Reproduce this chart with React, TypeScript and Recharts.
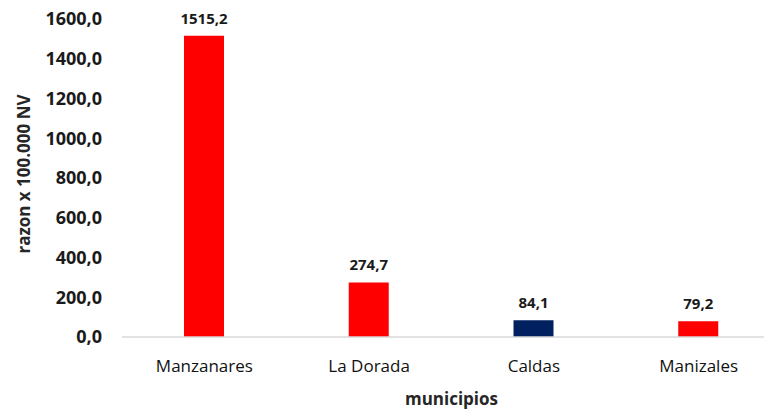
import { BarChart, Bar, XAxis, YAxis, Cell, LabelList, Label } from "recharts";

const municipios = ["Manzanares", "La Dorada", "Caldas", "Manizales"];
const razon = [1515.2, 274.7, 84.1, 79.2];
const colores = ["#FF0000", "#FF0000", "#002060", "#FF0000"];
const yTicks = [0, 200, 400, 600, 800, 1000, 1200, 1400, 1600];

const data = municipios.map((m, i) => ({ name: m, value: razon[i] }));

const fmt = (v: number) => v.toFixed(1).replace(".", ",");
const font = "'Open Sans', 'Noto Sans', sans-serif";

const YTitle = (props: any) => {
  const vb = props.viewBox;
  const cx = 23;
  const cy = vb.y + vb.height / 2 - 4;
  return (
    <text
      x={cx}
      y={cy}
      transform={`rotate(-90, ${cx}, ${cy})`}
      textAnchor="middle"
      dominantBaseline="central"
      fontFamily={font}
      fontWeight={700}
      fontSize={17}
      fill="#262626"
    >
      razon x 100.000 NV
    </text>
  );
};

export default function App() {
  return (
    <div style={{ width: 772, height: 417, overflow: "hidden", margin: -8, background: "#fff" }}>
      <BarChart
        width={790}
        height={417}
        data={data}
        margin={{ top: 19, right: 9, left: 0, bottom: 0 }}
      >
        <XAxis
          dataKey="name"
          height={80}
          axisLine={{ stroke: "#D9D9D9", strokeWidth: 1.5 }}
          tickLine={false}
          tickSize={0}
          tickMargin={23}
          tick={{ fontFamily: font, fontSize: 17, fill: "#111" }}
        >
          <Label
            value="municipios"
            position="insideBottom"
            offset={12}
            style={{ fontFamily: font, fontSize: 17, fontWeight: 700, fill: "#262626" }}
          />
        </XAxis>
        <YAxis
          width={122}
          domain={[0, 1600]}
          ticks={yTicks}
          axisLine={false}
          tickLine={false}
          tickSize={0}
          tickMargin={20}
          tickFormatter={fmt}
          tick={{ fontFamily: font, fontSize: 18, fontWeight: 700, fill: "#1a1a1a" }}
        >
          <Label content={YTitle} />
        </YAxis>
        <Bar dataKey="value" barSize={40} isAnimationActive={false}>
          {data.map((d, i) => (
            <Cell key={d.name} fill={colores[i]} />
          ))}
          <LabelList
            dataKey="value"
            position="top"
            offset={12}
            formatter={(v: any) => fmt(Number(v))}
            style={{ fontFamily: font, fontSize: 15, fontWeight: 700, fill: "#1a1a1a" }}
          />
        </Bar>
      </BarChart>
    </div>
  );
}
